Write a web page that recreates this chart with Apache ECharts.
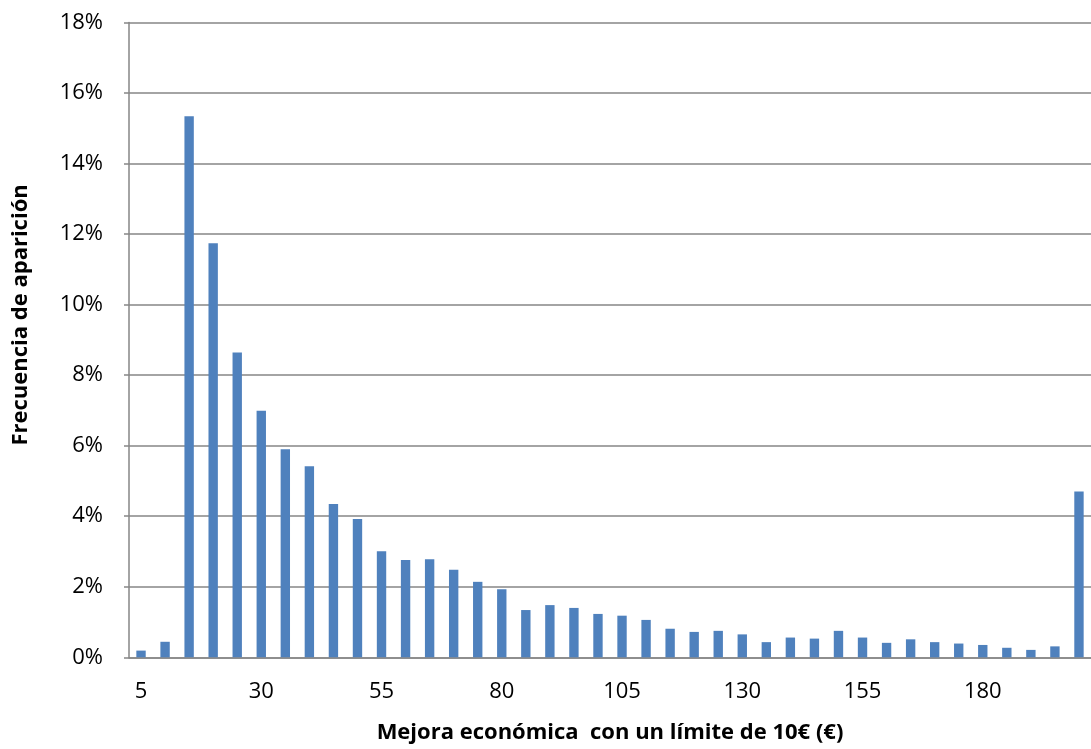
<!DOCTYPE html>
<html>
<head>
<meta charset="utf-8">
<script src="https://cdn.jsdelivr.net/npm/echarts@6/dist/echarts.min.js"></script>
<style>
  html, body { margin: 0; padding: 0; background: #fff; }
  #chart { width: 1091px; height: 749px; }
</style>
</head>
<body>
<div id="chart"></div>
<script>
// mejora economica (EUR), one bar every 5
const categories = [];
for (let v = 5; v <= 200; v += 5) categories.push(String(v));

// frecuencia de aparicion, in %
const frecuencia = [
  0.19, 0.44, 15.34, 11.74, 8.64, 6.99, 5.90, 5.42, 4.35, 3.92,
  3.01, 2.76, 2.78, 2.48, 2.14, 1.93, 1.34, 1.48, 1.40, 1.23,
  1.18, 1.06, 0.81, 0.72, 0.75, 0.65, 0.43, 0.56, 0.53, 0.75,
  0.56, 0.41, 0.51, 0.43, 0.39, 0.35, 0.27, 0.21, 0.31, 4.70
];

const yTicks = [0, 2, 4, 6, 8, 10, 12, 14, 16, 18];

const chart = echarts.init(document.getElementById('chart'));
const font = '"Open Sans", sans-serif';
const grey = '#868686';

chart.setOption({
  animation: false,
  grid: { left: 129, right: -3, top: 22.5, bottom: 91.7 },
  xAxis: {
    type: 'category',
    data: categories,
    name: 'Mejora económica  con un límite de 10€ (€)',
    nameLocation: 'middle',
    nameGap: 64,
    nameTextStyle: { fontFamily: font, fontSize: 22, fontWeight: 'bold', color: '#000' },
    axisLine: { lineStyle: { color: grey, width: 1.5 } },
    axisTick: { show: false },
    axisLabel: { interval: 4, margin: 23, fontFamily: font, fontSize: 22, color: '#000' }
  },
  yAxis: {
    type: 'value',
    min: yTicks[0],
    max: yTicks[yTicks.length - 1],
    interval: 2,
    name: 'Frecuencia de aparición',
    nameLocation: 'middle',
    nameGap: 97,
    nameTextStyle: { fontFamily: font, fontSize: 22, fontWeight: 'bold', color: '#000', padding: [0, 0, 0, 50] },
    axisLine: { show: true, lineStyle: { color: grey, width: 1.5 } },
    axisTick: { show: true, length: 5, lineStyle: { color: grey, width: 1.5 } },
    axisLabel: { margin: 26, fontFamily: font, fontSize: 22, color: '#000', formatter: '{value}%' },
    splitLine: { lineStyle: { color: grey, width: 1.5 } }
  },
  series: [{
    type: 'bar',
    data: frecuencia,
    barWidth: '39%',
    itemStyle: { color: '#4F81BD' }
  }]
});
</script>
</body>
</html>
